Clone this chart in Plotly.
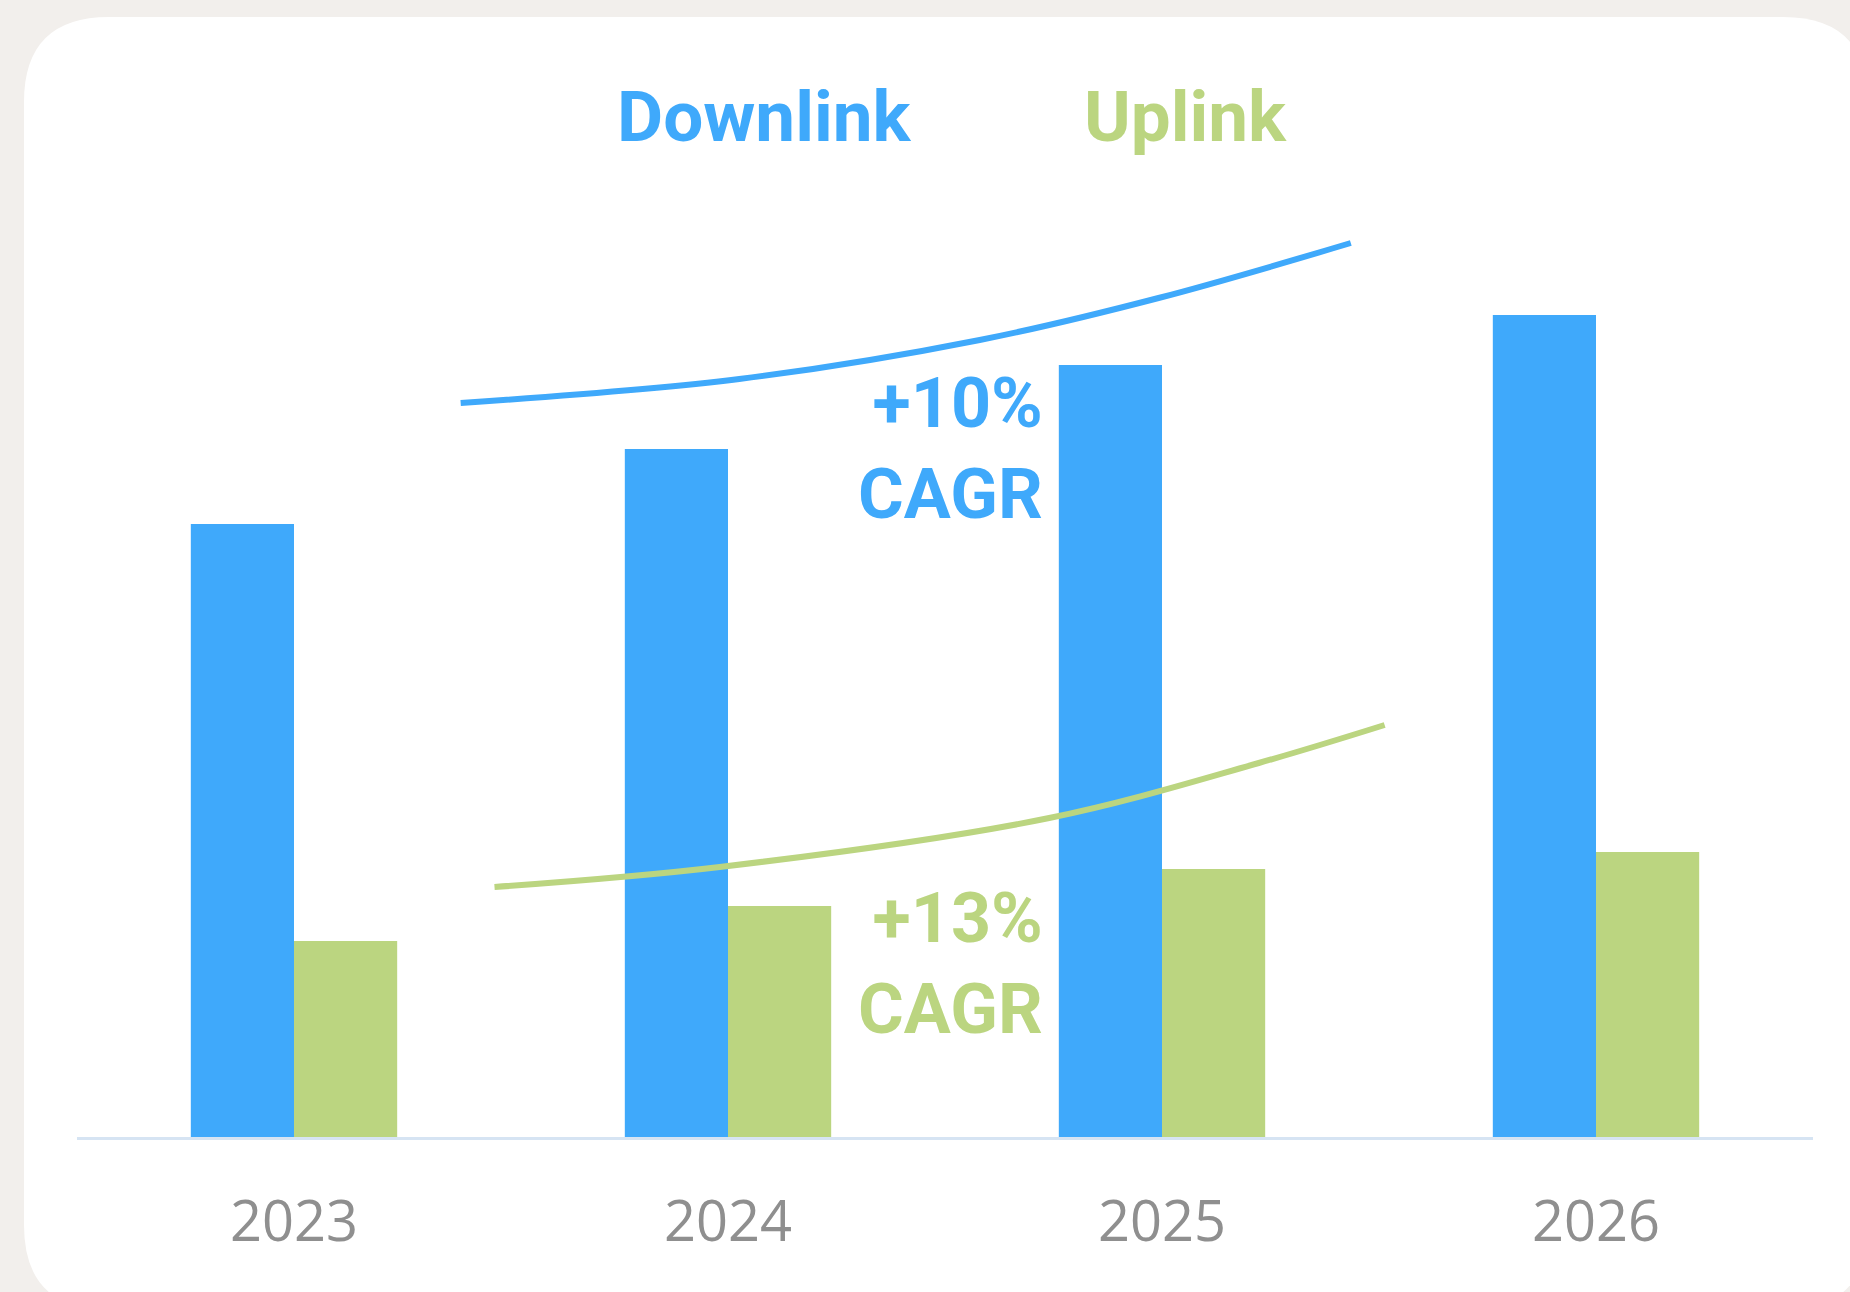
import plotly.graph_objects as go

# ---- data ----
years = ["2023", "2024", "2025", "2026"]
year_pos = [0, 1, 2, 3]
downlink = [61.3, 68.8, 77.2, 82.2]
uplink = [19.6, 23.1, 26.8, 28.5]

# decorative trend curves
dl_trend_x = [0.384, 1.026, 1.580, 1.992, 2.435]
dl_trend_y = [73.4, 75.8, 79.7, 83.9, 89.4]
ul_trend_x = [0.462, 0.981, 1.740, 2.223, 2.513]
ul_trend_y = [25.0, 27.0, 31.9, 37.4, 41.2]

BLUE = "#3FA9FB"
GREEN = "#BBD580"
GRAY = "#8F8F8F"
BG = "#F2EFEC"
FONT = "Open Sans"
HFONT = "Roboto"

W, H = 1850, 1292
ML, MR, MT, MB = 77, 37, 137, 155
PW, PH = W - ML - MR, H - MT - MB


def px2paper(x, y):
    return (x - ML) / PW, (H - MB - y) / PH


# rounded card path in paper coords
cx0, cy0, cx1, cy1, rad = 24, 17, 1868, 1310, 85
rx, ry = rad / PW, rad / PH
X0, Y0 = px2paper(cx0, cy0)
X1, Y1 = px2paper(cx1, cy1)
card_path = (
    f"M {X0+rx},{Y0} L {X1-rx},{Y0} Q {X1},{Y0} {X1},{Y0-ry} "
    f"L {X1},{Y1+ry} Q {X1},{Y1} {X1-rx},{Y1} "
    f"L {X0+rx},{Y1} Q {X0},{Y1} {X0},{Y1+ry} "
    f"L {X0},{Y0-ry} Q {X0},{Y0} {X0+rx},{Y0} Z"
)

fig = go.Figure()
fig.add_trace(go.Bar(x=year_pos, y=downlink, name="Downlink", marker_color=BLUE, marker_line_width=0))
fig.add_trace(go.Bar(x=year_pos, y=uplink, name="Uplink", marker_color=GREEN, marker_line_width=0))
fig.add_trace(go.Scatter(x=dl_trend_x, y=dl_trend_y, mode="lines",
                         line=dict(color=BLUE, width=6, shape="spline", smoothing=1.0), hoverinfo="skip"))
fig.add_trace(go.Scatter(x=ul_trend_x, y=ul_trend_y, mode="lines",
                         line=dict(color=GREEN, width=6, shape="spline", smoothing=1.0), hoverinfo="skip"))

fig.update_layout(
    width=W, height=H,
    margin=dict(l=ML, r=MR, t=MT, b=MB, pad=0),
    paper_bgcolor=BG, plot_bgcolor="rgba(0,0,0,0)",
    barmode="group", bargap=0.5245, bargroupgap=0,
    showlegend=False,
    font=dict(family=FONT),
    shapes=[dict(type="path", path=card_path, xref="paper", yref="paper",
                 fillcolor="white", line=dict(width=0), layer="below")],
    xaxis=dict(range=[-0.5, 3.5], tickvals=year_pos, ticktext=years,
               showgrid=False, zeroline=False, showline=True, linecolor="#D6E4F3", linewidth=3,
               ticks="", ticklabelstandoff=34,
               tickfont=dict(size=56, color=GRAY, family=FONT)),
    yaxis=dict(range=[0, 100], visible=False, showgrid=False, zeroline=False),
)

# header labels
hdr_y = (H - MB - 116.5) / PH
fig.add_annotation(x=1.084, y=hdr_y, xref="x", yref="paper", text="<b>Downlink</b>",
                   showarrow=False, xanchor="center", yanchor="middle",
                   font=dict(size=71, color=BLUE, family=HFONT))
fig.add_annotation(x=2.053, y=hdr_y, xref="x", yref="paper", text="<b>Uplink</b>",
                   showarrow=False, xanchor="center", yanchor="middle",
                   font=dict(size=71, color=GREEN, family=HFONT))

# CAGR labels
fig.add_annotation(x=1.7315, y=68.9, xref="x", yref="y", text="<b>+10%<br>CAGR</b>",
                   showarrow=False, xanchor="right", yanchor="middle", align="right",
                   font=dict(size=70, color=BLUE, family=HFONT))
fig.add_annotation(x=1.7315, y=17.4, xref="x", yref="y", text="<b>+13%<br>CAGR</b>",
                   showarrow=False, xanchor="right", yanchor="middle", align="right",
                   font=dict(size=70, color=GREEN, family=HFONT))

fig.write_html("out.html", config={"displayModeBar": False},
               post_script="document.body.style.margin='0';document.body.style.background='%s';" % BG)
